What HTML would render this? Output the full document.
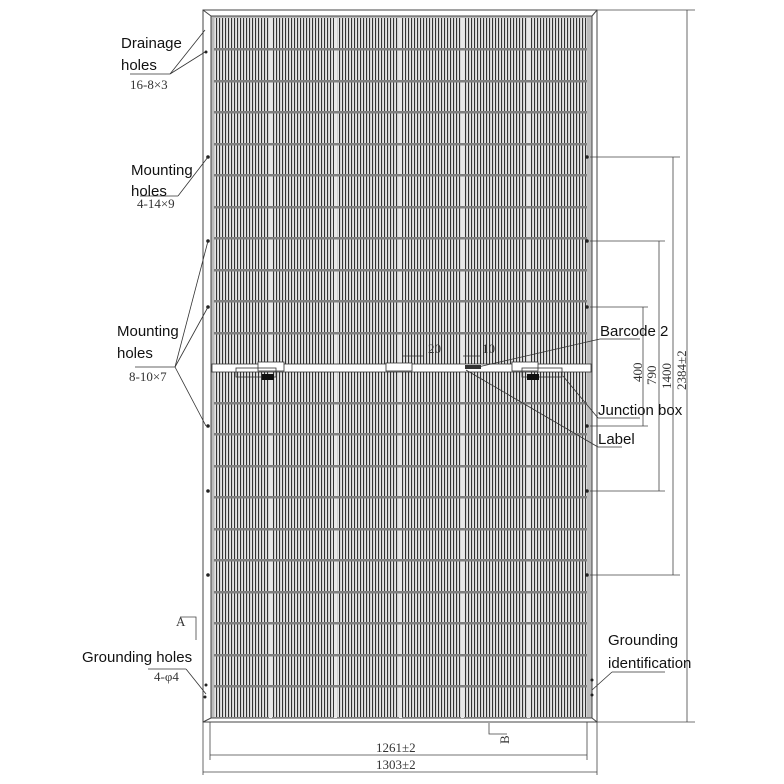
<!DOCTYPE html>
<html><head><meta charset="utf-8"><style>
html,body{margin:0;padding:0;background:#fff;width:784px;height:784px;overflow:hidden}
svg{display:block}
.l{font-family:"Liberation Sans",sans-serif;font-size:15px;fill:#111}
.s{font-family:"Liberation Serif",serif;font-size:13px;fill:#333}
</style></head><body>
<svg width="784" height="784" viewBox="0 0 784 784" xmlns="http://www.w3.org/2000/svg">
<defs>
<pattern id="st" width="3" height="10" patternUnits="userSpaceOnUse">
<rect width="3" height="10" fill="#e4e4e4"/><rect x="0" width="1.1" height="10" fill="#333"/>
</pattern>
</defs>
<rect x="203" y="10" width="394" height="712" fill="#fff" stroke="#444" stroke-width="1"/>
<rect x="211" y="16" width="381" height="702" fill="#bbb" stroke="#444" stroke-width="1"/>
<line x1="203" y1="10" x2="211" y2="16" stroke="#444"/><line x1="597" y1="10" x2="592" y2="16" stroke="#444"/>
<line x1="203" y1="722" x2="211" y2="718" stroke="#444"/><line x1="597" y1="722" x2="592" y2="718" stroke="#444"/>
<g fill="url(#st)">
<rect x="214" y="18" width="55" height="346"/><rect x="272" y="18" width="62" height="346"/><rect x="337" y="18" width="62" height="346"/><rect x="402" y="18" width="59" height="346"/><rect x="464" y="18" width="63" height="346"/><rect x="530" y="18" width="57" height="346"/>
<rect x="214" y="372" width="55" height="345"/><rect x="272" y="372" width="62" height="345"/><rect x="337" y="372" width="62" height="345"/><rect x="402" y="372" width="59" height="345"/><rect x="464" y="372" width="63" height="345"/><rect x="530" y="372" width="57" height="345"/>
</g>
<g fill="#e8e8e8">
<rect x="269" y="18" width="3" height="700"/><rect x="334" y="18" width="3" height="700"/><rect x="399" y="18" width="3" height="700"/><rect x="461" y="18" width="3" height="700"/><rect x="527" y="18" width="3" height="700"/>
</g>
<g fill="#808080">
<rect x="214" y="48" width="373" height="2.5"/><rect x="214" y="80" width="373" height="2.5"/><rect x="214" y="111" width="373" height="2.5"/><rect x="214" y="143" width="373" height="2.5"/><rect x="214" y="174" width="373" height="2.5"/><rect x="214" y="206" width="373" height="2.5"/><rect x="214" y="237" width="373" height="2.5"/><rect x="214" y="269" width="373" height="2.5"/><rect x="214" y="300" width="373" height="2.5"/><rect x="214" y="332" width="373" height="2.5"/>
<rect x="214" y="402" width="373" height="2.5"/><rect x="214" y="433" width="373" height="2.5"/><rect x="214" y="465" width="373" height="2.5"/><rect x="214" y="496" width="373" height="2.5"/><rect x="214" y="528" width="373" height="2.5"/><rect x="214" y="559" width="373" height="2.5"/><rect x="214" y="591" width="373" height="2.5"/><rect x="214" y="622" width="373" height="2.5"/><rect x="214" y="654" width="373" height="2.5"/><rect x="214" y="685" width="373" height="2.5"/>
</g>
<rect x="212" y="364" width="379" height="8" fill="#fff" stroke="#333" stroke-width="0.8"/>
<rect x="258" y="362" width="26" height="9" fill="#fff" stroke="#333" stroke-width="0.8"/>
<rect x="386" y="363" width="26" height="8" fill="#fff" stroke="#333" stroke-width="0.8"/>
<rect x="512" y="362" width="26" height="9" fill="#fff" stroke="#333" stroke-width="0.8"/>
<rect x="236" y="368" width="40" height="9" fill="none" stroke="#333" stroke-width="0.8"/>
<rect x="262" y="374" width="12" height="6" fill="#111"/>
<rect x="522" y="368" width="40" height="9" fill="none" stroke="#333" stroke-width="0.8"/>
<rect x="527" y="374" width="12" height="6" fill="#111"/>
<rect x="465" y="365" width="16" height="4" fill="#333"/>
<line x1="402" y1="356" x2="424" y2="356" stroke="#333" stroke-width="0.7"/><text x="428" y="353" class="s" font-size="12">20</text>
<line x1="463" y1="356" x2="480" y2="356" stroke="#333" stroke-width="0.7"/><text x="482" y="353" class="s" font-size="12">10</text>
<g fill="#222">
<circle cx="208" cy="157" r="1.8"/><circle cx="208" cy="241" r="1.8"/><circle cx="208" cy="307" r="1.8"/><circle cx="208" cy="426" r="1.8"/><circle cx="208" cy="491" r="1.8"/><circle cx="208" cy="575" r="1.8"/>
<circle cx="587" cy="157" r="1.8"/><circle cx="587" cy="241" r="1.8"/><circle cx="587" cy="307" r="1.8"/><circle cx="587" cy="426" r="1.8"/><circle cx="587" cy="491" r="1.8"/><circle cx="587" cy="575" r="1.8"/>
<circle cx="206" cy="52" r="1.5"/><circle cx="206" cy="685" r="1.5"/><circle cx="205" cy="697" r="1.5"/><circle cx="592" cy="680" r="1.5"/><circle cx="592" cy="695" r="1.5"/>
</g>
<g stroke="#444" stroke-width="0.8" fill="none">
<line x1="590" y1="157" x2="680" y2="157"/><line x1="590" y1="575" x2="680" y2="575"/>
<line x1="590" y1="241" x2="665" y2="241"/><line x1="590" y1="491" x2="665" y2="491"/>
<line x1="590" y1="307" x2="648" y2="307"/><line x1="590" y1="426" x2="648" y2="426"/>
<line x1="597" y1="10" x2="695" y2="10"/><line x1="597" y1="722" x2="695" y2="722"/>
<line x1="673" y1="157" x2="673" y2="575"/><line x1="659" y1="241" x2="659" y2="491"/><line x1="643" y1="307" x2="643" y2="426"/><line x1="687" y1="10" x2="687" y2="722"/>
</g>
<text transform="translate(642,382) rotate(-90)" class="s">400</text>
<text transform="translate(656,385) rotate(-90)" class="s">790</text>
<text transform="translate(671,389) rotate(-90)" class="s">1400</text>
<text transform="translate(686,390) rotate(-90)" class="s">2384±2</text>
<g stroke="#444" stroke-width="0.8" fill="none">
<line x1="203" y1="722" x2="203" y2="775"/><line x1="597" y1="722" x2="597" y2="775"/>
<line x1="210" y1="722" x2="210" y2="760"/><line x1="587" y1="722" x2="587" y2="760"/>
<line x1="210" y1="755" x2="587" y2="755"/><line x1="203" y1="772" x2="597" y2="772"/>
<polyline points="489,723 489,734 507,734"/>
<polyline points="180,617 196,617 196,640"/>
</g>
<text x="376" y="752" class="s" font-size="14">1261±2</text>
<text x="376" y="769" class="s" font-size="14">1303±2</text>
<text transform="translate(509,744) rotate(-90)" class="s" font-size="14">B</text>
<text x="176" y="626" class="s" font-size="14">A</text>
<g stroke="#333" stroke-width="0.8" fill="none">
<line x1="130" y1="74" x2="170" y2="74"/><line x1="170" y1="74" x2="205" y2="52"/><line x1="170" y1="74" x2="205" y2="30"/>
<line x1="140" y1="196" x2="178" y2="196"/><line x1="178" y1="196" x2="208" y2="157"/>
<line x1="135" y1="367" x2="175" y2="367"/><line x1="175" y1="367" x2="208" y2="241"/><line x1="175" y1="367" x2="208" y2="307"/><line x1="175" y1="367" x2="206" y2="426"/>
<line x1="148" y1="669" x2="186" y2="669"/><line x1="186" y1="669" x2="206" y2="694"/>
<line x1="612" y1="672" x2="665" y2="672"/><line x1="612" y1="672" x2="592" y2="690"/>
<line x1="600" y1="339" x2="640" y2="339"/><line x1="600" y1="339" x2="478" y2="367"/>
<line x1="598" y1="418" x2="640" y2="418"/><line x1="598" y1="418" x2="563" y2="376"/>
<line x1="598" y1="447" x2="622" y2="447"/><line x1="598" y1="447" x2="466" y2="370"/>
</g>
<text x="121" y="48" class="l">Drainage</text><text x="121" y="70" class="l">holes</text><text x="130" y="89" class="s">16-8×3</text>
<text x="131" y="175" class="l">Mounting</text><text x="131" y="196" class="l">holes</text><text x="137" y="208" class="s">4-14×9</text>
<text x="117" y="336" class="l">Mounting</text><text x="117" y="358" class="l">holes</text><text x="129" y="381" class="s">8-10×7</text>
<text x="82" y="662" class="l">Grounding holes</text><text x="154" y="681" class="s">4-φ4</text>
<text x="608" y="645" class="l">Grounding</text><text x="608" y="668" class="l">identification</text>
<text x="600" y="336" class="l">Barcode 2</text>
<text x="598" y="415" class="l">Junction box</text>
<text x="598" y="444" class="l">Label</text>
</svg>
</body></html>
